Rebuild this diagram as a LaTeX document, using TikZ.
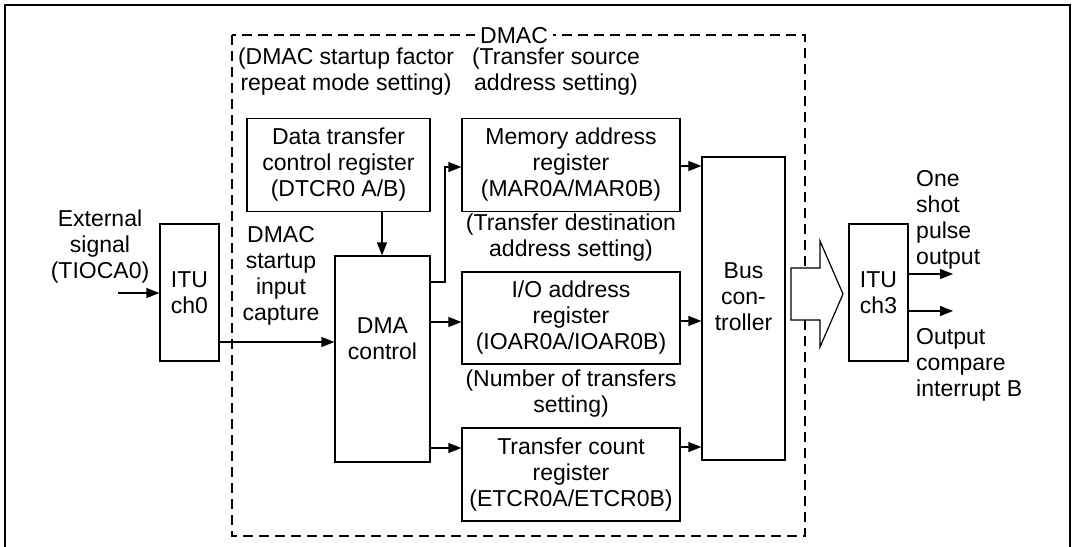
\documentclass[tikz,border=0pt]{standalone}
\usepackage{fontspec}
\setmainfont{Liberation Sans}
\usetikzlibrary{arrows.meta,calc}
\begin{document}
\begin{tikzpicture}[x=1pt,y=-1pt,
  every node/.style={font=\fontsize{23}{26}\selectfont, inner sep=0pt, align=center},
  box/.style={draw, line width=1.2pt},
  arr/.style={line width=1.2pt, -{Triangle[length=13pt,width=10pt]}},
  dashbox/.style={line width=1.2pt, dash pattern=on 10pt off 6pt},
  frame/.style={line width=2.5pt}
]
\useasboundingbox (0,0) rectangle (1075,546);
\draw[frame] (5,560) -- (5,5) -- (1070,5) -- (1070,560);
\draw[dashbox] (232,35) rectangle (805,536);
\node[fill=white, inner xsep=5pt, inner ysep=0.5pt] (dmac) at (514,36) {DMAC};

% boxes
\node[box, minimum width=183pt, minimum height=93pt] (dtcr) at (338.5,165) {Data transfer\\control register\\(DTCR0 A/B)};
\node[box, minimum width=218pt, minimum height=93pt] (mar) at (571,165) {Memory address\\register\\(MAR0A/MAR0B)};
\node[box, minimum width=218pt, minimum height=92pt] (ioar) at (571,318) {I/O address\\register\\(IOAR0A/IOAR0B)};
\node[box, minimum width=218pt, minimum height=93pt] (etcr) at (571,474.5) {Transfer count\\register\\(ETCR0A/ETCR0B)};
\node[box, minimum width=95pt, minimum height=206pt] (dma) at (382.5,359) {};
\node (dmat) at (382.5,339) {DMA\\control};
\node[box, minimum width=83pt, minimum height=303pt] (bus) at (743.5,308.5) {};
\node (bust) at (743.5,297) {Bus\\con-\\troller};
\node[box, minimum width=59pt, minimum height=137pt] (itu0) at (189.5,292.5) {ITU\\ch0};
\node[box, minimum width=59pt, minimum height=137pt] (itu3) at (878.5,292.5) {ITU\\ch3};

% labels
\node (l1) at (346,72) {(DMAC startup factor\\repeat mode setting)};
\node (l2) at (556,72) {(Transfer source\\address setting)};
\node (l3) at (571,238) {(Transfer destination\\address setting)};
\node (l4) at (571,394) {(Number of transfers\\setting)};
\node (l5) at (100,247) {External\\signal\\(TIOCA0)};
\node (l6) at (281,276) {DMAC\\startup\\input\\capture};
\node[anchor=west, align=left] (l7) at (916,220) {One\\shot\\pulse\\output};
\node[anchor=west, align=left] (l8) at (916,365) {Output\\compare\\interrupt B};

% connectors
\coordinate (ext) at (118,293);
\draw[arr] (ext) -- (ext -| itu0.west);
\draw[arr] (itu0.east |- 0,342) -- (dma.west |- 0,342);
\draw[arr] (382,0 |- dtcr.south) -- (382,0 |- dma.north);
\coordinate (bend) at (445,282);
\draw[arr] (dma.east |- bend) -- (bend) -- (bend |- 0,167) -- (mar.west |- 0,167);
\draw[arr] (dma.east |- 0,322) -- (ioar.west |- 0,322);
\draw[arr] (dma.east |- 0,448) -- (etcr.west |- 0,448);
\draw[arr] (mar.east |- 0,166) -- (bus.west |- 0,166);
\draw[arr] (ioar.east |- 0,321) -- (bus.west |- 0,321);
\draw[arr] (etcr.east |- 0,447) -- (bus.west |- 0,447);
\coordinate (o1) at (953,274);
\coordinate (o2) at (953,311);
\draw[arr] (itu3.east |- o1) -- (o1);
\draw[arr] (itu3.east |- o2) -- (o2);

% block arrow from bus controller to ITU ch3
\coordinate (ba) at (791,268);
\coordinate (tip) at (843,294);
\draw[line width=1.2pt, fill=white, line join=miter]
  (ba) -- (820,268) -- (820,241) -- (tip) -- (820,347) -- (820,320) -- (791,320) -- cycle;
\end{tikzpicture}
\end{document}
